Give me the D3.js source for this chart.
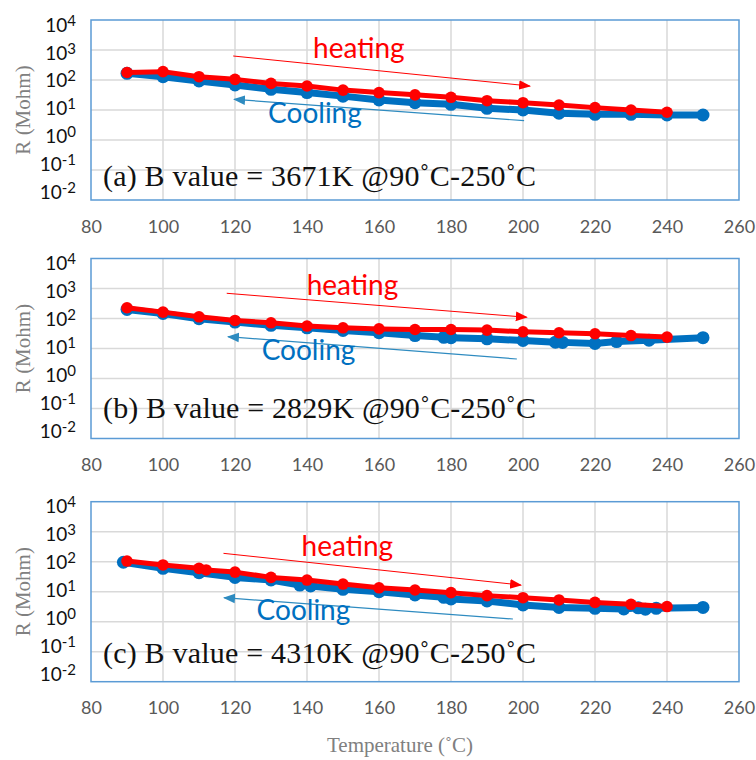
<!DOCTYPE html>
<html lang="en">
<head>
<meta charset="UTF-8">
<title>R vs temperature</title>
<style>
  body { margin: 0; background: #fff; }
</style>
</head>
<body>
<div id="root"></div>
<script src="https://cdn.jsdelivr.net/npm/d3@7"></script>
<script>
// ---- data ----
const xTicks = [80, 100, 120, 140, 160, 180, 200, 220, 240, 260]
const yExps = [-2, -1, 0, 1, 2, 3, 4]
const panelLabels = [
  "(a) B value = 3671K @90\u02DAC-250\u02DAC",
  "(b) B value = 2829K @90\u02DAC-250\u02DAC",
  "(c) B value = 4310K @90\u02DAC-250\u02DAC"
]

const heatA_T = [90, 100, 110, 120, 130, 140, 150, 160, 170, 180, 190, 200, 210, 220, 230, 240]
const heatA_R = [178, 190, 129, 105, 77, 63, 46, 38, 32, 26.5, 20.4, 17.5, 14.7, 12, 10, 8.4]
const coolA_T = [90, 100, 110, 120, 130, 140, 150, 160, 170, 180, 190, 200, 210, 220, 230, 240, 250]
const coolA_R = [167, 129, 93, 68, 49, 38, 29, 21.5, 17.5, 15.5, 11.4, 10, 7.8, 7.2, 7.2, 6.8, 6.8]

const heatB_T = [90, 100, 110, 120, 130, 140, 150, 160, 170, 180, 190, 200, 210, 220, 230, 240]
const heatB_R = [228, 163, 114, 86, 72, 56, 49, 45, 43, 43, 41, 36, 33.5, 31, 27, 24]
const coolB_T = [90, 100, 110, 120, 130, 140, 150, 160, 170, 178, 180, 190, 200, 209, 211, 220, 226, 235, 250]
const coolB_R = [200, 147, 98, 76, 59, 49, 40, 33.5, 27, 23.5, 23, 21, 18.5, 16.3, 16, 14.7, 17, 19, 23]

const heatC_T = [90, 100, 110, 112, 120, 130, 140, 150, 160, 170, 180, 190, 200, 210, 220, 230, 240]
const heatC_R = [105, 78, 60, 53, 45, 30, 24.5, 18, 13.5, 11.4, 9.3, 7.4, 6.3, 5.3, 4.4, 3.8, 3.2]
const coolC_T = [89, 100, 110, 120, 130, 138, 141, 150, 160, 170, 178, 180, 190, 200, 210, 220, 228, 232, 234, 237, 250]
const coolC_R = [96, 60, 43, 30, 24.5, 16.6, 15.5, 12, 10, 7.8, 6.5, 5.7, 4.9, 3.6, 3.0, 2.8, 2.65, 2.9, 2.6, 2.8, 3.0]

// arrows [t1, r1, t2, r2] in data units (line drawn from 1 to 2, head at 2)
const heatArrows = [[119.5, 631, 201.9, 63], [117.7, 692, 201, 110], [116.8, 190, 199.4, 16.7]]
const coolArrows = [[200.3, 4.4, 119.8, 22.7], [198.3, 4.47, 118.1, 24.7], [197.2, 1.23, 117, 6.3]]
// label anchors [t, r] in data units
const heatText = [[141.7, 541], [139.9, 607], [138.5, 155]]
const coolText = [[129.2, 3.69], [127.4, 4.14], [126, 1.14]]

const zip = (ts, rs) => ts.map((t, i) => ({ t, r: rs[i] }))
const panels = [
  { heat: zip(heatA_T, heatA_R), cool: zip(coolA_T, coolA_R) },
  { heat: zip(heatB_T, heatB_R), cool: zip(coolB_T, coolB_R) },
  { heat: zip(heatC_T, heatC_R), cool: zip(coolC_T, coolC_R) }
]

// ---- layout ----
const W = 756, H = 760
const plotH = 180
const tops = [20, 258.5, 501.7]
const labelBase = [166, 159, 161]

const RED = "#ff0000", BLUE = "#0070c0", ARROW_BLUE = "#2e8bc0"
const FRAME = "#5b9bd5", GRID = "#d9d9d9"
const sans = "Lato, 'Open Sans', sans-serif"
const serif = "'Liberation Serif', 'DejaVu Serif', serif"

const svg = d3.select("#root").append("svg")
  .attr("width", W)
  .attr("height", H)

const defs = svg.append("defs")
function arrowHead(id, color) {
  defs.append("marker")
    .attr("id", id)
    .attr("viewBox", "0 0 10 10")
    .attr("refX", 9).attr("refY", 5)
    .attr("markerWidth", 12).attr("markerHeight", 12)
    .attr("markerUnits", "userSpaceOnUse")
    .attr("orient", "auto")
    .append("path")
    .attr("d", "M0,1 L10,5 L0,9 Z")
    .attr("fill", color)
}
arrowHead("headRed", RED)
arrowHead("headBlue", ARROW_BLUE)

const x = d3.scaleLinear().domain([80, 260]).range([91, 739])

panels.forEach((p, i) => {
  const top = tops[i]
  const y = d3.scaleLog().domain([1e-2, 1e4]).range([top + plotH, top])
  // tick labels sit a little closer together than the gridlines
  const yLab = d3.scaleLog().domain([1e-2, 1e4]).range([top + plotH - 7.5, top + 5])
  const g = svg.append("g")

  // gridlines
  g.selectAll(".vgrid")
    .data(xTicks.slice(1, -1))
    .join("line")
    .attr("x1", d => x(d)).attr("x2", d => x(d))
    .attr("y1", top).attr("y2", top + plotH)
    .attr("stroke", GRID).attr("stroke-width", 1.5)
  g.selectAll(".hgrid")
    .data(yExps.slice(1, -1))
    .join("line")
    .attr("x1", x(80)).attr("x2", x(260))
    .attr("y1", d => y(10 ** d)).attr("y2", d => y(10 ** d))
    .attr("stroke", GRID).attr("stroke-width", 1.5)

  // frame
  g.append("rect")
    .attr("x", x(80)).attr("y", top)
    .attr("width", x(260) - x(80)).attr("height", plotH)
    .attr("fill", "none")
    .attr("stroke", FRAME).attr("stroke-width", 1.5)

  // x axis labels
  const xAxis = g.append("g")
    .attr("transform", `translate(0, ${top + plotH})`)
    .call(d3.axisBottom(x).tickValues(xTicks).tickSize(0).tickPadding(20).tickFormat(d3.format("d")))
  xAxis.select(".domain").remove()
  xAxis.selectAll("text")
    .attr("font-family", sans).attr("font-size", 18).attr("fill", "#595959")

  // y axis labels 10^n
  const yAxis = g.append("g")
    .attr("transform", "translate(76, 0)")
    .call(d3.axisLeft(yLab).tickValues(yExps.map(e => 10 ** e)).tickSize(0).tickPadding(0).tickFormat(""))
  yAxis.select(".domain").remove()
  yAxis.selectAll("text")
    .attr("font-family", sans).attr("font-size", 19).attr("fill", "#111")
    .each(function (d) {
      const t = d3.select(this)
      t.append("tspan").text("10")
      t.append("tspan").attr("dy", "-0.4em").attr("font-size", 15).text(Math.round(Math.log10(d)))
    })

  // y title
  svg.append("text")
    .attr("transform", `translate(30, ${top + plotH / 2}) rotate(-90)`)
    .attr("text-anchor", "middle")
    .attr("font-family", serif).attr("font-size", 21)
    .attr("fill", "#808080")
    .text("R (Mohm)")

  // series
  const line = d3.line().x(d => x(d.t)).y(d => y(d.r))
  g.append("path").datum(p.cool)
    .attr("d", line).attr("fill", "none")
    .attr("stroke", BLUE).attr("stroke-width", 7).attr("stroke-linejoin", "round")
  g.selectAll(".cdot").data(p.cool).join("circle")
    .attr("cx", d => x(d.t)).attr("cy", d => y(d.r)).attr("r", 6.5)
    .attr("fill", BLUE)
  g.append("path").datum(p.heat)
    .attr("d", line).attr("fill", "none")
    .attr("stroke", RED).attr("stroke-width", 5).attr("stroke-linejoin", "round")
  g.selectAll(".hdot").data(p.heat).join("circle")
    .attr("cx", d => x(d.t)).attr("cy", d => y(d.r)).attr("r", 5.8)
    .attr("fill", RED)

  // arrows
  const ha = heatArrows[i], ca = coolArrows[i]
  g.append("line")
    .attr("x1", x(ha[0])).attr("y1", y(ha[1]))
    .attr("x2", x(ha[2])).attr("y2", y(ha[3]))
    .attr("stroke", RED).attr("stroke-width", 1)
    .attr("marker-end", "url(#headRed)")
  g.append("line")
    .attr("x1", x(ca[0])).attr("y1", y(ca[1]))
    .attr("x2", x(ca[2])).attr("y2", y(ca[3]))
    .attr("stroke", ARROW_BLUE).attr("stroke-width", 1.2)
    .attr("marker-end", "url(#headBlue)")

  g.append("text")
    .attr("x", x(heatText[i][0])).attr("y", y(heatText[i][1]))
    .attr("font-family", sans).attr("font-size", 28).attr("fill", RED)
    .text("heating")
  g.append("text")
    .attr("x", x(coolText[i][0])).attr("y", y(coolText[i][1]))
    .attr("font-family", sans).attr("font-size", 28).attr("fill", BLUE)
    .text("Cooling")

  // panel label
  g.append("text")
    .attr("x", 103).attr("y", top + labelBase[i])
    .attr("font-family", serif).attr("font-size", 30).attr("fill", "#111")
    .attr("textLength", 433).attr("lengthAdjust", "spacing")
    .text(panelLabels[i])
})

svg.append("text")
  .attr("x", 400).attr("y", 752)
  .attr("text-anchor", "middle")
  .attr("font-family", serif).attr("font-size", 21)
  .attr("fill", "#808080")
  .text("Temperature (\u02DAC)")
</script>
</body>
</html>
